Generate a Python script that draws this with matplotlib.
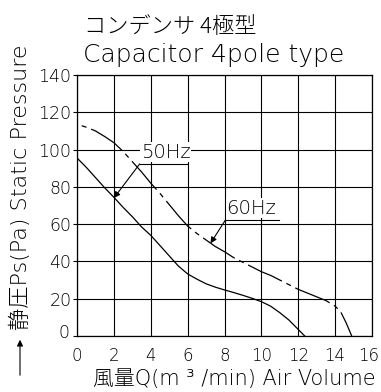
import matplotlib
matplotlib.use('Agg')
from matplotlib import pyplot as plt
import matplotlib.transforms as mtransforms


# Static pressure curves
q_50 = [0, 0.5, 1, 1.5, 2, 2.5, 3, 3.5, 4, 4.5, 5, 5.5, 6, 6.5, 7, 7.5, 8,
        8.5, 9, 9.5, 10, 10.5, 11, 11.5, 12, 12.35]
ps_50 = [95.5, 90.5, 85, 79.5, 74.4, 69, 64, 58.5, 54, 48.5, 43, 37.5, 33.3,
         30.5, 28, 26.2, 24.7, 23.3, 21.8, 20.2, 18.4, 16, 12.5, 8.5, 3.5, 0]

q_60 = [0, 0.5, 1, 1.5, 2, 2.5, 3, 3.5, 4, 4.5, 5, 5.5, 6, 6.5, 7, 7.5, 8,
        8.5, 9, 9.5, 10, 10.5, 11, 11.5, 12, 12.5, 13, 13.5, 14, 14.3, 14.6, 14.9]
ps_60 = [113.6, 112, 110, 107, 103.7, 99, 93.5, 88, 82, 76.5, 70.5, 64.5, 59,
         55, 51.5, 48, 45.2, 42, 39.5, 37, 34.5, 32.5, 30, 27.5, 25, 23, 21,
         19, 16, 13, 7, 0]

x_ticks = [0, 2, 4, 6, 8, 10, 12, 14, 16]
y_ticks = [0, 20, 40, 60, 80, 100, 120, 140]

fonts = ['DejaVu Sans', 'Noto Sans CJK JP']
plt.rcParams['font.family'] = fonts
plt.rcParams['font.weight'] = 'light'

fig = plt.figure(figsize=(3.81, 3.92), dpi=100)
ax = fig.add_axes([0.2021, 0.1429, 0.7743, 0.6658])

ax.plot(q_50, ps_50, color='black', linewidth=0.9)
ax.plot(q_60, ps_60, color='black', linewidth=0.9,
        linestyle=(30, (30, 4, 4, 4)))

ax.set_xlim(0, 16)
ax.set_ylim(0, 140)
ax.set_xticks(x_ticks)
ax.set_yticks(y_ticks)
ax.grid(True, color='black', linewidth=0.8)
for s in ax.spines.values():
    s.set_linewidth(0.9)
ax.tick_params(axis='x', length=0, pad=8, labelsize=12)
ax.tick_params(axis='y', length=3, width=0.8, pad=1, labelsize=12.5)

# nudge the last x label inside the figure and lift the y "0" a little
lab = ax.get_xticklabels()[-1]
lab.set_transform(lab.get_transform() +
                  mtransforms.ScaledTranslation(-3 / 100, 0, fig.dpi_scale_trans))
lab = ax.get_yticklabels()[0]
lab.set_transform(lab.get_transform() +
                  mtransforms.ScaledTranslation(-2 / 100, 5 / 100, fig.dpi_scale_trans))

# labels for the two curves, underlined with a leader arrow
ax.text(3.45, 93.5, '50Hz', fontsize=14, ha='left', va='bottom',
        bbox=dict(facecolor='white', edgecolor='none', pad=0.5), zorder=3)
ax.plot([3.4, 5.95], [92.3, 92.3], color='black', linewidth=0.8, zorder=4)
ax.annotate('', xy=(2, 74), xytext=(3.4, 92.3),
            arrowprops=dict(arrowstyle='-|>', color='black', lw=0.8,
                            mutation_scale=9, shrinkA=0, shrinkB=0))

ax.text(8.1, 63.5, '60Hz', fontsize=14, ha='left', va='bottom',
        bbox=dict(facecolor='white', edgecolor='none', pad=0.5), zorder=3)
ax.plot([8.05, 10.95], [62.2, 62.2], color='black', linewidth=0.8, zorder=4)
ax.annotate('', xy=(7.24, 49.7), xytext=(8.05, 62.2),
            arrowprops=dict(arrowstyle='-|>', color='black', lw=0.8,
                            mutation_scale=9, shrinkA=0, shrinkB=0))

# titles
fig.text(84 / 381, 1 - 33 / 392, 'コンデンサ 4極型', fontsize=16,
         family=['Noto Sans CJK JP', 'DejaVu Sans'], ha='left', va='baseline')
fig.text(83 / 381, 1 - 62 / 392, 'Capacitor 4pole type', fontsize=18,
         ha='left', va='baseline')

# axis labels
fig.text(20 / 381, 1 - 187 / 392, '静圧Ps(Pa) Static Pressure', fontsize=16,
         rotation=90, ha='center', va='center')
fig.text(234 / 381, 1 - 379 / 392, '風量Q(m ³ /min) Air Volume', fontsize=15,
         ha='center', va='center')
fig.add_artist(matplotlib.patches.FancyArrowPatch(
    (20 / 381, 1 - 378 / 392), (20 / 381, 1 - 337 / 392),
    transform=fig.transFigure, arrowstyle='-|>', mutation_scale=9,
    color='black', lw=0.8))

fig.savefig('out.png', dpi=100)
